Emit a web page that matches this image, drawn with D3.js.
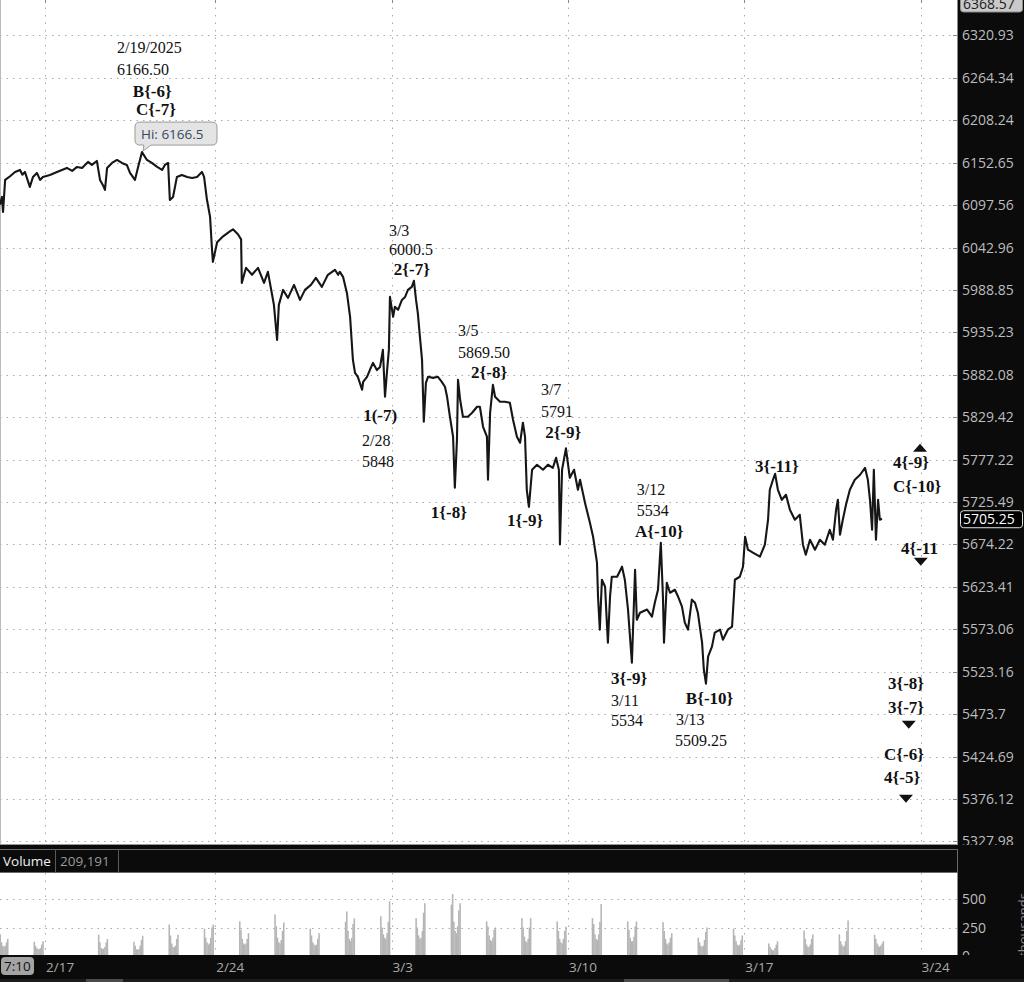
<!DOCTYPE html>
<html><head><meta charset="utf-8">
<script src="https://cdn.jsdelivr.net/npm/d3@7"></script>
<style>html,body{margin:0;padding:0;background:#fff}svg{display:block}</style>
</head><body>
<svg id="c" width="1024" height="982"></svg>
<script>
// ---------------- DATA ----------------
const priceTicks = [6320.93,6264.34,6208.24,6152.65,6097.56,6042.96,5988.85,5935.23,5882.08,5829.42,5777.22,5725.49,5674.22,5623.41,5573.06,5523.16,5473.7,5424.69,5376.12,5327.98];
const priceTickLabels = ["6320.93","6264.34","6208.24","6152.65","6097.56","6042.96","5988.85","5935.23","5882.08","5829.42","5777.22","5725.49","5674.22","5623.41","5573.06","5523.16","5473.7","5424.69","5376.12","5327.98"];
const priceDomain = [5323.9, 6368.57];
const priceMaxLabel = "6368.57";
const lastPrice = 5705.25;
const highValue = 6166.5;
const highT = 2.75;
const dateLabels = ["2/17","2/24","3/3","3/10","3/17","3/24"];
const dateTicks = [0,4.826,9.826,14.826,19.826,24.826];   // trading-day offsets
const dayDomain = [-1.276, 25.886];
// [trading-day offset, price]
const priceSeries = [
[-1.28,6098.1],[-1.22,6108.1],[-1.19,6088.8],[-1.13,6130.2],[-0.99,6135.0],[-0.85,6140.6],[-0.71,6143.2],[-0.64,6137.0],[-0.57,6140.6],[-0.43,6121.1],[-0.34,6134.1],[-0.23,6139.3],[-0.14,6130.2],[-0.06,6134.1],[0.14,6136.7],[0.34,6140.6],[0.48,6143.2],[0.62,6145.8],[0.77,6141.9],[0.91,6147.1],[1.05,6145.8],[1.22,6153.6],[1.33,6149.7],[1.47,6154.9],[1.56,6130.2],[1.64,6123.7],[1.70,6117.2],[1.76,6145.8],[1.90,6152.3],[2.04,6156.2],[2.18,6152.3],[2.32,6149.7],[2.41,6139.3],[2.55,6130.2],[2.64,6147.1],[2.75,6166.5],[2.89,6156.2],[3.03,6152.3],[3.18,6147.1],[3.32,6143.2],[3.40,6149.7],[3.49,6152.3],[3.54,6104.2],[3.63,6108.1],[3.74,6134.1],[3.88,6136.7],[4.03,6134.1],[4.17,6132.8],[4.31,6134.1],[4.45,6140.6],[4.51,6134.1],[4.59,6105.1],[4.68,6082.4],[4.73,6043.7],[4.76,6024.6],[4.88,6049.6],[5.05,6057.3],[5.24,6063.7],[5.33,6066.3],[5.47,6059.9],[5.56,6053.4],
[5.58,5997.8],[5.70,6017.0],[5.87,6008.1],[6.04,6017.0],[6.21,5997.8],[6.32,6011.9],[6.44,5982.5],[6.49,5969.9],[6.58,5925.8],[6.63,5969.9],[6.75,5988.9],[6.89,5978.7],[7.06,5995.2],[7.23,5976.2],[7.37,5988.9],[7.54,5995.2],[7.68,6004.1],[7.85,5992.7],[8.02,6008.1],[8.22,6014.5],[8.31,6008.1],[8.36,6011.9],[8.45,6005.5],[8.56,5985.1],[8.65,5954.8],[8.73,5900.8],[8.79,5884.5],[8.87,5879.5],[8.99,5863.4],[9.02,5873.3],[9.13,5879.5],[9.21,5888.0],[9.30,5896.9],[9.41,5888.0],[9.50,5891.9],[9.58,5913.2],[9.64,5854.7],[9.70,5888.0],[9.75,5913.2],[9.78,5980.0],[9.87,5954.8],[9.92,5967.4],[10.01,5963.6],[10.12,5976.2],[10.21,5980.0],[10.29,5988.9],[10.40,5992.7],[10.46,6000.5],[10.52,5976.2],[10.57,5959.8],[10.63,5929.6],[10.69,5900.8],[10.72,5854.7],[10.74,5823.8],[10.80,5872.0],[10.86,5879.5],[11.00,5878.2],[11.14,5879.5],[11.25,5873.3],[11.34,5867.1],[11.40,5854.7],[11.48,5830.0],[11.57,5805.3],[11.62,5742.8],[11.68,5801.6],[11.71,5875.8],[11.77,5851.0],[11.85,5830.0],[11.99,5830.0],[12.11,5834.9],[12.25,5842.3],[12.33,5842.3],[12.42,5817.6],[12.53,5805.3],[12.56,5752.6],[12.62,5834.9],[12.70,5869.5],[12.76,5854.7],[12.90,5848.5],[13.04,5848.5],[13.18,5847.3],[13.27,5826.2],[13.38,5805.3],[13.47,5797.9],[13.55,5822.6],[13.61,5805.3],[13.66,5740.4],[13.72,5719.7],[13.81,5764.8],[13.95,5770.9],[14.12,5764.8],[14.26,5770.9],[14.40,5767.2],[14.49,5779.4],[14.57,5764.8],[14.60,5674.2],[14.66,5764.8],[14.77,5791.0],[14.88,5755.0],[15.00,5764.8],[15.11,5740.4],[15.17,5752.6],
[15.31,5724.5],[15.45,5700.4],[15.54,5683.5],[15.65,5652.3],[15.68,5611.7],[15.73,5572.6],[15.79,5631.9],[15.88,5623.5],[15.93,5581.0],[15.96,5557.3],[16.02,5611.7],[16.07,5635.5],[16.22,5635.5],[16.36,5647.5],[16.44,5631.9],[16.53,5596.4],[16.64,5533.7],[16.73,5643.9],[16.78,5584.4],[16.87,5592.7],[17.07,5596.4],[17.21,5588.1],[17.29,5604.6],[17.38,5620.0],[17.46,5676.3],[17.52,5611.7],[17.55,5557.3],[17.63,5628.3],[17.72,5616.4],[17.86,5620.0],[17.95,5611.7],[18.06,5599.9],[18.14,5581.0],[18.23,5572.6],[18.34,5608.2],[18.43,5604.6],[18.51,5592.7],[18.63,5557.3],[18.68,5525.5],[18.74,5509.25],[18.80,5540.8],[18.91,5552.6],[18.99,5569.1],[19.14,5572.6],[19.22,5560.8],[19.36,5572.6],[19.48,5576.1],[19.56,5631.9],[19.70,5635.5],[19.79,5647.5],[19.85,5683.5],[19.93,5667.9],[20.07,5664.3],[20.27,5659.5],
[20.41,5673.9],[20.50,5704.0],[20.55,5740.4],[20.64,5752.6],[20.70,5759.9],[20.78,5740.4],[20.89,5728.2],[21.01,5734.3],[21.12,5716.1],[21.26,5704.0],[21.40,5710.0],[21.49,5673.9],[21.57,5661.9],[21.69,5679.9],[21.83,5667.9],[21.97,5679.9],[22.11,5673.9],[22.25,5691.9],[22.34,5679.9],[22.43,5716.1],[22.48,5728.2],[22.54,5685.9],[22.62,5704.0],[22.71,5722.1],[22.82,5740.4],[22.96,5752.6],[23.11,5758.7],[23.25,5767.2],[23.33,5752.6],[23.39,5728.2],[23.45,5691.9],[23.50,5764.8],[23.56,5679.9],[23.62,5728.2],[23.67,5704.0],[23.73,5705.25]
];
// sessions with a regular-hours volume cluster (trading-day offset of session start)
const sessionStarts = [-2,-1,0.826,1.826,2.826,3.826,4.826,5.826,6.826,7.826,8.826,9.826,10.826,11.826,12.826,13.826,14.826,15.826,16.826,17.826,18.826,19.826,20.826,21.826,22.826];
// volume (thousands) per regular-hours bar for each session
const sessionVolumes = [
[160,190,120,90,80,90,120,150],
[125,90,70,60,60,70,100,130],
[187,120,70,60,65,80,120,150],
[125,90,60,55,60,90,140,178],
[276,180,110,80,75,90,150,187],
[240,160,120,100,110,160,250,276],
[303,230,150,110,100,110,150,200],
[365,260,160,120,110,140,220,294],
[240,180,120,100,90,100,150,200],
[300,391,220,150,130,160,280,330],
[349,250,190,160,150,200,300,480],
[332,250,180,150,160,220,380,463],
[450,543,300,220,200,260,400,463],
[303,260,180,140,130,160,230,250],
[332,250,170,130,120,150,250,332],
[303,220,150,120,110,150,220,258],
[332,280,190,150,140,190,300,456],
[303,230,160,130,130,170,260,303],
[297,220,150,110,100,120,160,200],
[160,120,90,80,90,140,210,250],
[240,180,130,100,90,100,140,180],
[110,80,60,50,50,70,100,130],
[222,150,100,80,80,100,150,190],
[190,130,100,80,90,130,220,312],
[187,150,110,90,80,90,110,130]
];
const volTicks = [0,250,500];
const volDomain = [0,500];
const volumeHeader = ["Volume","209,191"];
const timeBadge = "7:10";
const annotations = [
{text:"2/19/2025",t:2.04,p:6297.5,bold:false},
{text:"6166.50",t:2.04,p:6268.1,bold:false},
{text:"B{-6}",t:2.49,p:6239.0,bold:true},
{text:"C{-7}",t:2.58,p:6215.2,bold:true},
{text:"3/3",t:9.75,p:6057.9,bold:false},
{text:"6000.5",t:9.75,p:6033.5,bold:false},
{text:"2{-7}",t:9.89,p:6008.0,bold:true},
{text:"3/5",t:11.71,p:5930.8,bold:false},
{text:"5869.50",t:11.71,p:5903.3,bold:false},
{text:"2{-8}",t:12.08,p:5878.2,bold:true},
{text:"1(-7)",t:9.02,p:5825.0,bold:true},
{text:"2/28",t:8.99,p:5794.2,bold:false},
{text:"5848",t:8.99,p:5768.4,bold:false},
{text:"3/7",t:14.06,p:5857.2,bold:false},
{text:"5791",t:14.06,p:5829.9,bold:false},
{text:"2{-9}",t:14.18,p:5804.1,bold:true},
{text:"1{-8}",t:10.94,p:5706.4,bold:true},
{text:"1{-9}",t:13.10,p:5696.8,bold:true},
{text:"3/12",t:16.78,p:5734.3,bold:false},
{text:"5534",t:16.78,p:5708.9,bold:false},
{text:"A{-10}",t:16.73,p:5683.5,bold:true},
{text:"3{-11}",t:20.13,p:5762.3,bold:true},
{text:"4{-9}",t:24.04,p:5767.2,bold:true},
{text:"C{-10}",t:24.04,p:5737.9,bold:true},
{text:"4{-11",t:24.27,p:5663.1,bold:true},
{text:"3{-9}",t:16.05,p:5509.2,bold:true},
{text:"3/11",t:16.05,p:5483.5,bold:false},
{text:"5534",t:16.05,p:5460.3,bold:false},
{text:"B{-10}",t:18.17,p:5485.8,bold:true},
{text:"3/13",t:17.89,p:5461.5,bold:false},
{text:"5509.25",t:17.86,p:5437.3,bold:false},
{text:"3{-8}",t:23.90,p:5503.3,bold:true},
{text:"3{-7}",t:23.90,p:5475.4,bold:true},
{text:"C{-6}",t:23.79,p:5421.1,bold:true},
{text:"4{-5}",t:23.79,p:5394.8,bold:true}
];
const markers = [
{t:24.81,p:5791.7,dir:"up"},
{t:24.83,p:5653.5,dir:"down"},
{t:24.49,p:5461.5,dir:"down"},
{t:24.41,p:5376.5,dir:"down"}
];

// ---------------- LAYOUT ----------------
const W=1024,H=982, plotR=958, priceBottom=845;
const svg=d3.select("#c");
const x=d3.scaleLinear().domain(dayDomain).range([0,plotR]);
const y=d3.scaleLog().domain(priceDomain).range([priceBottom,0]);
const yv=d3.scaleLinear().domain(volDomain).range([956,899]);
const AX="'Open Sans','Noto Sans',sans-serif";
const SERIF="'Liberation Serif','DejaVu Serif',serif";

svg.append("rect").attr("width",W).attr("height",H).attr("fill","#fff");
const defs=svg.append("defs");
defs.append("clipPath").attr("id","cp").append("rect").attr("x",0).attr("y",0).attr("width",plotR).attr("height",priceBottom);
defs.append("clipPath").attr("id","cv").append("rect").attr("x",0).attr("y",873).attr("width",plotR).attr("height",82);

// grid - price panel
const grid=svg.append("g");
grid.selectAll(".hg").data(priceTicks).join("line")
  .attr("x1",0).attr("x2",plotR-4).attr("y1",d=>Math.round(y(d))+0.5).attr("y2",d=>Math.round(y(d))+0.5)
  .attr("stroke","#a8a8a8").attr("stroke-width",1).attr("stroke-dasharray","1.5,5");
grid.selectAll(".vg").data(dateTicks).join("line")
  .attr("x1",d=>Math.round(x(d))+0.5).attr("x2",d=>Math.round(x(d))+0.5).attr("y1",0).attr("y2",priceBottom)
  .attr("stroke","#a8a8a8").attr("stroke-width",1).attr("stroke-dasharray","1.5,6");
grid.selectAll(".vt").data(dateTicks).join("line")
  .attr("x1",d=>Math.round(x(d))+0.5).attr("x2",d=>Math.round(x(d))+0.5).attr("y1",0).attr("y2",3)
  .attr("stroke","#888");
svg.append("line").attr("x1",0.5).attr("x2",0.5).attr("y1",0).attr("y2",priceBottom).attr("stroke","#bbb");

// price line
const line=d3.line().x(d=>x(d[0])).y(d=>y(d[1])).curve(d3.curveLinear);
svg.append("path").datum(priceSeries).attr("clip-path","url(#cp)")
  .attr("d",line).attr("fill","none").attr("stroke","#161616").attr("stroke-width",2.1).attr("stroke-linejoin","round");

// annotations
svg.append("g").selectAll("text").data(annotations).join("text")
  .attr("x",d=>x(d.t)).attr("y",d=>y(d.p))
  .attr("font-family",SERIF).attr("font-size",d=>d.bold?17:16).attr("font-weight",d=>d.bold?"bold":"normal")
  .attr("fill","#111").text(d=>d.text);

// markers
svg.append("g").selectAll("path").data(markers).join("path")
  .attr("d",d=>{const cx=x(d.t),cy=y(d.p);return d.dir==="up"
     ?`M${cx-7},${cy+4}L${cx+7},${cy+4}L${cx},${cy-4}Z`
     :`M${cx-7},${cy-4}L${cx+7},${cy-4}L${cx},${cy+4}Z`;})
  .attr("fill","#111");

// Hi callout
{
  const px=x(highT), py=y(highValue);
  const g=svg.append("g");
  const bx=px-7, by=py-30, bw=82, bh=23;
  g.append("path").attr("d",`M${bx+5},${by}H${bx+bw-5}Q${bx+bw},${by} ${bx+bw},${by+5}V${by+bh-5}Q${bx+bw},${by+bh} ${bx+bw-5},${by+bh}H${bx+16}L${px+1},${py-1}L${bx+9},${by+bh}H${bx+5}Q${bx},${by+bh} ${bx},${by+bh-5}V${by+5}Q${bx},${by} ${bx+5},${by}Z`)
    .attr("fill","#e4e4e4").attr("stroke","#9a9a9a").attr("stroke-width",1);
  g.append("text").attr("x",bx+6).attr("y",by+16.5).attr("font-family",AX).attr("font-size",13.5)
    .attr("fill","#34495e").text("Hi: "+highValue);
}

// right axis column
svg.append("rect").attr("x",plotR).attr("y",0).attr("width",W-plotR).attr("height",H).attr("fill","#0b0b0b");
svg.append("line").attr("x1",plotR-0.5).attr("x2",plotR-0.5).attr("y1",0).attr("y2",priceBottom).attr("stroke","#8a8a8a");
const ax=svg.append("g");
ax.selectAll("line").data(priceTicks).join("line")
  .attr("x1",plotR-5).attr("x2",plotR).attr("y1",d=>Math.round(y(d))+0.5).attr("y2",d=>Math.round(y(d))+0.5).attr("stroke","#8a8a8a");
ax.selectAll("text").data(priceTicks).join("text")
  .attr("x",962).attr("y",d=>y(d)+5).attr("font-family",AX).attr("font-size",14).attr("fill","#bdbdbd")
  .text((d,i)=>priceTickLabels[i]);

// top max label
svg.append("rect").attr("x",960.5).attr("y",-4).attr("width",62).attr("height",16).attr("rx",3)
  .attr("fill","#c9c9c9").attr("stroke","#8c8c8c");
svg.append("text").attr("x",963).attr("y",9).attr("font-family",AX).attr("font-size",14).attr("fill","#1a1a1a").text(priceMaxLabel);
// last price label
{
  const ly=y(lastPrice);
  svg.append("rect").attr("x",960.5).attr("y",ly-8).attr("width",62).attr("height",17).attr("rx",3)
    .attr("fill","#000").attr("stroke","#e0e0e0");
  svg.append("text").attr("x",963).attr("y",ly+5).attr("font-family",AX).attr("font-size",14).attr("fill","#fff").text(d3.format(".2f")(lastPrice));
}

// ---------------- VOLUME PANEL ----------------
svg.append("rect").attr("x",0).attr("y",845).attr("width",W).attr("height",28).attr("fill","#0b0b0b");
svg.append("line").attr("x1",0).attr("x2",plotR).attr("y1",844.5).attr("y2",844.5).attr("stroke","#9a9a9a");
svg.append("line").attr("x1",0).attr("x2",plotR).attr("y1",849.5).attr("y2",849.5).attr("stroke","#6a6a6a");
svg.append("line").attr("x1",0).attr("x2",plotR).attr("y1",872.5).attr("y2",872.5).attr("stroke","#6a6a6a");
svg.append("line").attr("x1",plotR-0.5).attr("x2",plotR-0.5).attr("y1",849).attr("y2",873).attr("stroke","#6a6a6a");
svg.append("line").attr("x1",55.5).attr("x2",55.5).attr("y1",849).attr("y2",873).attr("stroke","#5a5a5a");
svg.append("line").attr("x1",118.5).attr("x2",118.5).attr("y1",849).attr("y2",873).attr("stroke","#5a5a5a");
svg.append("text").attr("x",3).attr("y",866).attr("font-family",AX).attr("font-size",13.5).attr("fill","#f0f0f0").text(volumeHeader[0]);
svg.append("text").attr("x",60).attr("y",866).attr("font-family",AX).attr("font-size",13.5).attr("fill","#9a9a9a").text(volumeHeader[1]);

svg.append("rect").attr("x",0).attr("y",873).attr("width",plotR).attr("height",82).attr("fill","#fff");
const vg=svg.append("g");
vg.selectAll(".vh").data(volTicks.filter(v=>v>0)).join("line")
  .attr("x1",0).attr("x2",plotR).attr("y1",d=>Math.round(yv(d))+0.5).attr("y2",d=>Math.round(yv(d))+0.5)
  .attr("stroke","#a8a8a8").attr("stroke-dasharray","1.5,5");
vg.selectAll(".vv").data(dateTicks).join("line")
  .attr("x1",d=>Math.round(x(d))+0.5).attr("x2",d=>Math.round(x(d))+0.5).attr("y1",873).attr("y2",955)
  .attr("stroke","#a8a8a8").attr("stroke-dasharray","1.5,6");
// volume bars
const rthOffset=0.674, rthLen=0.283;
const bars=[];
sessionStarts.forEach((s,k)=>{const v=sessionVolumes[k];const step=rthLen/v.length;
  v.forEach((val,i)=>bars.push({t:s+rthOffset+i*step,w:step,v:val}));});
vg.append("g").attr("clip-path","url(#cv)").selectAll("rect").data(bars).join("rect")
  .attr("x",d=>x(d.t)).attr("width",d=>Math.max(1,x(d.t+d.w)-x(d.t))+0.3)
  .attr("y",d=>yv(d.v)).attr("height",d=>yv(0)-yv(d.v)).attr("fill","#b5b5b5");
svg.append("line").attr("x1",plotR-0.5).attr("x2",plotR-0.5).attr("y1",873).attr("y2",955).attr("stroke","#8a8a8a");
svg.selectAll(".vl").data(volTicks).join("text")
  .attr("x",962).attr("y",d=>yv(d)+5).attr("font-family",AX).attr("font-size",14).attr("fill","#bdbdbd").text(d=>d);
svg.append("text").attr("transform","translate(1028,925) rotate(-90)").attr("text-anchor","middle")
  .attr("font-family",AX).attr("font-size",13).attr("fill","#8a8a8a").text("thousands");

// ---------------- BOTTOM AXIS ----------------
svg.append("rect").attr("x",0).attr("y",955).attr("width",W).attr("height",27).attr("fill","#0b0b0b");
svg.selectAll(".dl").data(dateTicks).join("text")
  .attr("x",d=>x(d)+1).attr("y",972).attr("font-family",AX).attr("font-size",13.5).attr("fill","#a9a9a9")
  .text((d,i)=>dateLabels[i]);
svg.append("rect").attr("x",1).attr("y",957).attr("width",33).attr("height",18).attr("rx",4).attr("fill","#a3a3a3");
svg.append("text").attr("x",4).attr("y",971).attr("font-family",AX).attr("font-size",13.5).attr("fill","#111").text(timeBadge);
svg.append("rect").attr("x",0).attr("y",979).attr("width",W).attr("height",3).attr("fill","#1c1c1c");
svg.append("rect").attr("x",86).attr("y",979).attr("width",37).attr("height",3).attr("fill","#4a4a4a");
svg.append("rect").attr("x",624).attr("y",979).attr("width",105).attr("height",3).attr("fill","#4a4a4a");
</script>
</body></html>
